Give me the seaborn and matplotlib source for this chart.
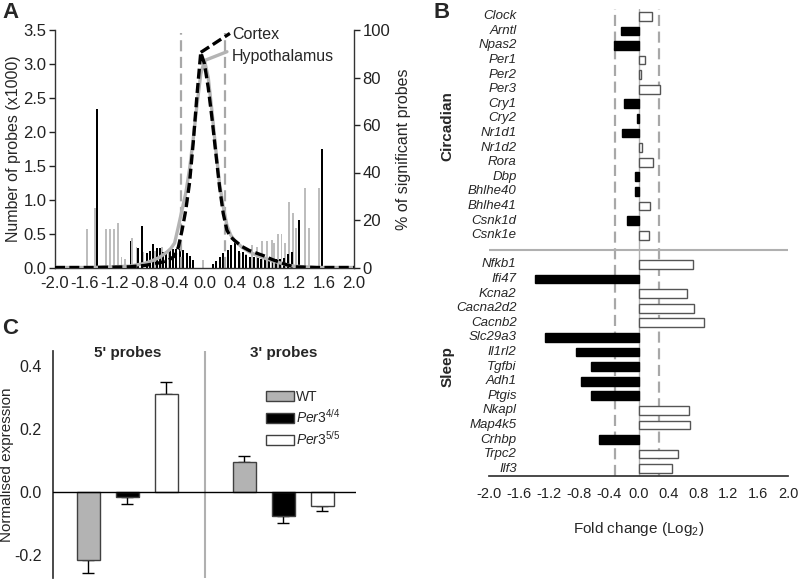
import numpy as np
import pandas as pd
import matplotlib
matplotlib.use("Agg")
import matplotlib.pyplot as plt
from matplotlib.patches import Patch
import seaborn as sns

sns.set_theme(style="white")
plt.rcParams["font.family"] = ["Liberation Sans", "DejaVu Sans"]
plt.rcParams["mathtext.fontset"] = "custom"
plt.rcParams["mathtext.rm"] = "Liberation Sans"
plt.rcParams["mathtext.it"] = "Liberation Sans:italic"
plt.rcParams["mathtext.bf"] = "Liberation Sans:bold"
plt.rcParams["axes.unicode_minus"] = False

# ---- panel A: fold-change distribution (x1000 probes) ----
curve_x = [-2.0, -1.5, -1.0, -0.8, -0.7, -0.6, -0.5, -0.45, -0.4, -0.35, -0.3, -0.25,
           -0.2, -0.15, -0.1, -0.05, 0.0, 0.05, 0.1, 0.15, 0.2, 0.25, 0.3, 0.35, 0.4,
           0.5, 0.6, 0.7, 0.8, 0.9, 1.0, 1.1, 1.2, 1.5, 2.0]
cortex_n = [0.0, 0.0, 0.01, 0.03, 0.05, 0.07, 0.10, 0.13, 0.17, 0.30, 0.55, 0.85,
            1.25, 1.85, 2.55, 3.17, 3.0, 2.65, 2.2, 1.7, 1.2, 0.8, 0.55, 0.45, 0.40,
            0.31, 0.25, 0.21, 0.17, 0.12, 0.08, 0.04, 0.01, 0.0, 0.0]
hypo_n = [0.0, 0.0, 0.02, 0.06, 0.10, 0.15, 0.23, 0.28, 0.36, 0.60, 0.85, 1.10,
          1.45, 1.90, 2.40, 2.85, 3.05, 2.80, 2.30, 1.75, 1.25, 0.90, 0.62, 0.48, 0.40,
          0.30, 0.23, 0.18, 0.14, 0.10, 0.07, 0.04, 0.02, 0.0, 0.0]

# % of significant probes per bin
hypo_sig_x = [-1.57, -1.47, -1.32, -1.26, -1.21, -1.16, -1.11, -1.06, -0.97, -0.91,
              -0.82, -0.77, -0.66, -0.57, -0.52, -0.47, -0.02, 0.48, 0.56, 0.63, 0.70,
              0.77, 0.83, 0.90, 0.93, 0.98, 1.03, 1.08, 1.13, 1.19, 1.23, 1.35, 1.40, 1.53]
hypo_sig_pct = [16.3, 24.9, 16.3, 16.3, 16.3, 18.6, 4.6, 3.7, 12.6, 8.6,
                6.6, 5.7, 7.0, 8.6, 7.0, 8.0, 3.1, 6.3, 5.7, 9.4, 8.6,
                11.1, 11.1, 11.7, 10.3, 14.0, 14.3, 10.3, 27.7, 22.9, 16.6, 33.4, 16.6, 33.4]
cortex_sig_x = [-1.44, -0.99, -0.89, -0.84, -0.77, -0.73, -0.685, -0.64, -0.595, -0.55,
                -0.51, -0.46, -0.42, -0.375, -0.33, -0.29, -0.24, -0.20, -0.15, 0.12,
                0.16, 0.21, 0.25, 0.31, 0.36, 0.41, 0.46, 0.52, 0.56, 0.61, 0.66, 0.71,
                0.76, 0.81, 0.86, 0.91, 0.96, 1.01, 1.06, 1.12, 1.17, 1.27, 1.57]
cortex_sig_pct = [66.6, 11.1, 8.3, 17.4, 6.0, 7.1, 9.7, 8.3, 8.3, 6.6,
                  6.6, 8.0, 7.7, 7.7, 8.0, 7.4, 6.3, 4.9, 3.1, 1.4,
                  2.6, 4.6, 6.0, 7.4, 9.4, 10.7, 7.1, 6.6, 5.1, 4.6, 4.3, 4.0,
                  3.7, 3.4, 3.4, 3.7, 3.4, 3.7, 4.0, 5.7, 6.6, 20.0, 50.0]
fc_ticks = ["-2.0", "-1.6", "-1.2", "-0.8", "-0.4", "0.0", "0.4", "0.8", "1.2", "1.6", "2.0"]

# ---- panel B: fold change of selected genes ----
genes_circ = ["Clock", "Arntl", "Npas2", "Per1", "Per2", "Per3", "Cry1", "Cry2",
              "Nr1d1", "Nr1d2", "Rora", "Dbp", "Bhlhe40", "Bhlhe41", "Csnk1d", "Csnk1e"]
fc_circ = [0.18, -0.23, -0.33, 0.09, 0.03, 0.285, -0.20, -0.02,
           -0.22, 0.045, 0.20, -0.045, -0.05, 0.16, -0.15, 0.14]
genes_sleep = ["Nfkb1", "Ifi47", "Kcna2", "Cacna2d2", "Cacnb2", "Slc29a3", "Il1rl2",
               "Tgfbi", "Adh1", "Ptgis", "Nkapl", "Map4k5", "Crhbp", "Trpc2", "Ilf3"]
fc_sleep = [0.73, -1.38, 0.65, 0.74, 0.88, -1.25, -0.84,
            -0.63, -0.77, -0.64, 0.68, 0.69, -0.53, 0.53, 0.445]

# ---- panel C: Per3 probe expression ----
genotypes = ["WT", "Per3 4/4", "Per3 5/5"]
expr_5p = [-0.215, -0.014, 0.312]
err_5p = [0.043, 0.025, 0.039]
expr_3p = [0.095, -0.077, -0.045]
err_3p = [0.021, 0.022, 0.015]

W, H = 799, 588
fig = plt.figure(figsize=(W / 100, H / 100), dpi=100)


def axes_px(left, top, right, bottom):
    return fig.add_axes([left / W, 1 - bottom / H, (right - left) / W, (bottom - top) / H])


tick_pos = [float(t) for t in fc_ticks]

# ================= A =================
axA = axes_px(55, 30, 354, 267.5)
axA2 = axA.twinx()
axA2.bar(hypo_sig_x, hypo_sig_pct, width=0.026, color="#bdbdbd", linewidth=0)
axA2.bar(cortex_sig_x, cortex_sig_pct, width=0.026, color="black", linewidth=0)
axA2.set_ylim(0, 100)
axA2.set_yticks([0, 20, 40, 60, 80, 100])

for xv in (-0.32, 0.27):
    axA.plot([xv, xv], [0, 3.46], color="#a8a8a8", lw=1.6, ls=(0, (5, 2.5)), zorder=1)
sns.lineplot(x=curve_x, y=hypo_n, ax=axA, color="#b4b4b4", linewidth=2.4, zorder=3)
sns.lineplot(x=curve_x, y=cortex_n, ax=axA, color="black", linewidth=2.4,
             linestyle=(0, (3, 1.3)), zorder=4)
# callouts
axA.plot([-0.05, 0.34], [3.17, 3.45], color="black", lw=2.4, ls=(0, (3, 1.3)), zorder=4)
axA.plot([0.0, 0.30], [3.05, 3.18], color="#b4b4b4", lw=2.4, zorder=3)
axA.text(0.37, 3.43, "Cortex", fontsize=11.5, va="center", ha="left")
axA.text(0.37, 3.11, "Hypothalamus", fontsize=11.5, va="center", ha="left")

axA.set_zorder(axA2.get_zorder() + 1)
axA.patch.set_visible(False)
axA.set_xlim(-2.0, 2.0)
axA.set_ylim(0, 3.5)
axA.set_xticks(tick_pos)
axA.set_xticklabels(fc_ticks)
axA.set_yticks([0, 0.5, 1.0, 1.5, 2.0, 2.5, 3.0, 3.5])
axA.set_yticklabels(["0.0", "0.5", "1.0", "1.5", "2.0", "2.5", "3.0", "3.5"])
axA.set_ylabel("Number of probes (x1000)", fontsize=11.5)
axA.yaxis.set_label_coords(-0.115, 0.5)
axA2.set_ylabel("% of significant probes", fontsize=11.5)
axA2.yaxis.set_label_coords(1.14, 0.5)
for a in (axA, axA2):
    a.tick_params(direction="out", length=4, width=1, labelsize=12, colors="#222222",
                  pad=2)
    a.spines["top"].set_visible(False)
    for s in a.spines.values():
        s.set_color("#333333")
        s.set_linewidth(1)
axA.spines["right"].set_visible(False)
axA2.spines["left"].set_visible(False)
axA2.spines["bottom"].set_visible(False)
axA.grid(False)
axA2.grid(False)

# ================= B =================
axB = axes_px(489, 9, 788, 476)
order_b = genes_circ + [" "] + genes_sleep
dfB = pd.DataFrame({"gene": genes_circ + genes_sleep, "fc": fc_circ + fc_sleep})
sns.barplot(data=dfB, x="fc", y="gene", order=order_b, orient="h", color="white",
            width=0.6, edgecolor="#555555", linewidth=1.0, ax=axB, zorder=3)
for p in axB.patches:
    if p.get_width() < 0:
        p.set_facecolor("black")
        p.set_edgecolor("black")
axB.axvline(0, color="#b0b0b0", lw=1, zorder=1)
for xv in (-0.32, 0.27):
    axB.axvline(xv, color="#a8a8a8", lw=1.6, ls=(0, (5, 2.5)), zorder=1)
axB.axhline(len(genes_circ), color="#b0b0b0", lw=1.5, zorder=1)
axB.set_xlim(-2.0, 2.0)
axB.set_ylim(len(order_b) - 0.5, -0.5)
axB.set_yticks([])
axB.set_ylabel("")
for i, g in enumerate(order_b):
    if g.strip():
        axB.text(-1.63, i, g, ha="right", va="center", style="italic", fontsize=9.5)
axB.text(-2.56, (len(genes_circ) - 1) / 2, "Circadian", rotation=90, ha="center",
         va="center", fontsize=11, fontweight="bold", clip_on=False)
axB.text(-2.56, len(genes_circ) + 1 + (len(genes_sleep) - 1) / 2, "Sleep", rotation=90,
         ha="center", va="center", fontsize=11, fontweight="bold", clip_on=False)
axB.set_xticks(tick_pos)
axB.set_xticklabels(fc_ticks)
axB.tick_params(axis="x", direction="out", length=5, width=1, labelsize=10.5,
                colors="#222222", pad=3)
axB.set_xlabel("Fold change (Log$_2$)", fontsize=11)
axB.xaxis.set_label_coords(0.5, -0.095)
for s in ("top", "left", "right"):
    axB.spines[s].set_visible(False)
axB.spines["bottom"].set_color("#333333")
axB.grid(False)

# ================= C =================
axC = axes_px(53, 350.7, 356, 578)
slots = ["5' WT", "5' Per3 4/4", "5' Per3 5/5", " ", "3' WT", "3' Per3 4/4", "3' Per3 5/5"]
dfC = pd.DataFrame({
    "slot": ["5' " + g for g in genotypes] + ["3' " + g for g in genotypes],
    "genotype": genotypes * 2,
    "expr": expr_5p + expr_3p,
    "err": err_5p + err_3p,
})
pal = {"WT": "#b3b3b3", "Per3 4/4": "black", "Per3 5/5": "white"}
sns.barplot(data=dfC, x="slot", y="expr", hue="genotype", order=slots,
            hue_order=genotypes, palette=pal, dodge=False, width=0.6,
            edgecolor="#404040", linewidth=1.0, legend=False, ax=axC, zorder=3)
pos = [slots.index(s) for s in dfC["slot"]]
lower = [e if v < 0 else 0 for v, e in zip(dfC["expr"], dfC["err"])]
upper = [e if v > 0 else 0 for v, e in zip(dfC["expr"], dfC["err"])]
axC.errorbar(pos, dfC["expr"], yerr=[lower, upper], fmt="none", ecolor="black",
             elinewidth=1, capsize=4.5, capthick=1, zorder=2)
axC.axhline(0, color="black", lw=1, zorder=4)
axC.axvline(3, color="#b0b0b0", lw=1.5, zorder=1)
axC.set_xlim(-0.91, 6.86)
axC.set_ylim(-0.273, 0.45)
axC.set_xticks([])
axC.set_xlabel("")
axC.set_yticks([-0.2, 0.0, 0.2, 0.4])
axC.set_yticklabels(["-0.2", "0.0", "0.2", "0.4"])
axC.tick_params(axis="y", direction="out", length=5, width=1, labelsize=11.5,
                colors="#222222", pad=3)
axC.set_ylabel("Normalised expression", fontsize=11)
axC.yaxis.set_label_coords(-0.13, 0.5)
axC.text(1, 0.444, "5' probes", ha="center", va="center", fontsize=11, fontweight="bold")
axC.text(5, 0.444, "3' probes", ha="center", va="center", fontsize=11, fontweight="bold")
for s in ("top", "right", "bottom"):
    axC.spines[s].set_visible(False)
axC.spines["left"].set_color("#333333")
axC.grid(False)
handles = [Patch(facecolor=pal[g], edgecolor="#404040", linewidth=1) for g in genotypes]
labels = ["WT", r"$\mathit{Per3}^{\mathit{4/4}}$", r"$\mathit{Per3}^{\mathit{5/5}}$"]
axC.legend(handles, labels, loc="upper left", bbox_to_anchor=(266 / W, 1 - 390 / H),
           bbox_transform=fig.transFigure, frameon=False, borderpad=0, borderaxespad=0,
           handlelength=2.0, handleheight=0.7, handletextpad=0.15, labelspacing=0.3,
           fontsize=10)

# panel letters
fig.text(2 / W, 1 - 2 / H, "A", fontsize=16, fontweight="bold", va="top", ha="left")
fig.text(433 / W, 1 - 2 / H, "B", fontsize=16, fontweight="bold", va="top", ha="left")
fig.text(2 / W, 1 - 318 / H, "C", fontsize=16, fontweight="bold", va="top", ha="left")

fig.savefig("out.png", dpi=100, facecolor="white")
